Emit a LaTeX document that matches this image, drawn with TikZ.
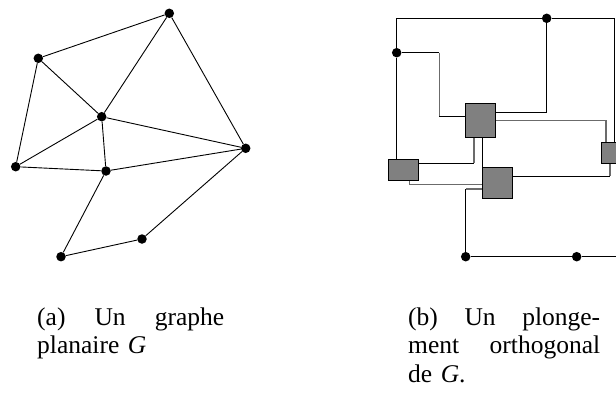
\documentclass[tikz,border=0pt]{standalone}
\usepackage{fontspec}
\setmainfont{Liberation Serif}
\definecolor{boxgray}{gray}{0.5}
\definecolor{linegray}{gray}{0.42}

\begin{document}
\begin{tikzpicture}[
    x=1pt, y=-1pt,
    vtx/.style={circle, fill=black, inner sep=0pt, minimum size=9.5pt},
    blk/.style={rectangle, draw=black, fill=boxgray, line width=1pt, inner sep=0pt},
    edge/.style={line width=0.9pt},
    gedge/.style={line width=1.1pt, draw=linegray},
    legende/.style={inner sep=0pt, anchor=base west, align=left, font=\fontsize{25.5}{28.5}\selectfont}
  ]
    \useasboundingbox (0,0) rectangle (616,394);
    \clip (0,0) rectangle (616,394);

    % (a) le graphe planaire
    \node[vtx] (a) at (169.3,13.3) {};
    \node[vtx] (b) at (38.3,58.3) {};
    \node[vtx] (c) at (101.7,116.7) {};
    \node[vtx] (d) at (245.7,148.3) {};
    \node[vtx] (e) at (15.7,166.7) {};
    \node[vtx] (f) at (106,171) {};
    \node[vtx] (g) at (142,239) {};
    \node[vtx] (h) at (61,256.7) {};
    \draw[edge] (a) -- (b) (a) -- (c) (a) -- (d) (b) -- (c) (b) -- (e) (c) -- (e)
      (c) -- (f) (c) -- (d) (e) -- (f) (f) -- (d) (f) -- (h) (h) -- (g) (g) -- (d);

    % (b) le plongement orthogonal
    \node[vtx] (p1) at (546.7,18.3) {};
    \node[vtx] (p2) at (396.7,52.7) {};
    \node[vtx] (p3) at (465.7,256.7) {};
    \node[vtx] (p4) at (576.7,256.7) {};
    \node[blk, minimum width=29.6pt, minimum height=34pt] (q1) at (480.5,120.3) {};
    \node[blk, minimum width=29.6pt, minimum height=30.6pt] (q2) at (497.5,182.8) {};
    \node[blk, minimum width=30pt, minimum height=21.5pt] (q3) at (403.5,169.9) {};
    \node[blk, minimum width=30pt, minimum height=21pt] (q4) at (616.5,152.8) {};

    \coordinate (k2) at (614,0);
    \coordinate (k4) at (0,112.3);
    \coordinate (k5a) at (439.3,52.7);
    \coordinate (k5b) at (439.3,116.7);
    \coordinate (k6) at (606,120.7);
    \coordinate (k7) at (474,163.3);
    \coordinate (k8) at (482.7,0);
    \coordinate (k9) at (610,176);
    \coordinate (k10) at (409.3,184.3);
    \coordinate (k11) at (465.7,189);
    \coordinate (k12) at (620,256.7);

    \draw[edge] (p2) |- (p1);
    \draw[edge] (p1) -| (q4.north -| k2);
    \draw[edge] (p2) -- (q3.north -| p2);
    \draw[edge] (p1) |- (q1.east |- k4);
    \draw[edge] (p2) -- (k5a);
    \draw[gedge] (k5a) -- (k5b);
    \draw[edge] (k5b) -- (q1.west |- k5b);
    \draw[gedge] (q1.east |- k6) -| (q4.north -| k6);
    \draw[edge] (q3.east |- k7) -- (k7);
    \draw[gedge] (k7) -- (q1.south -| k7);
    \draw[edge] (q1.south -| k8) -- (q2.north -| k8);
    \draw[edge] (q2.east |- k9) -- (k9);
    \draw[gedge] (k9) -- (q4.south -| k9);
    \draw[gedge] (q3.south -| k10) |- (q2.west |- k10);
    \draw[gedge] (q2.west |- k11) -- (k11);
    \draw[edge] (k11) -- (p3);
    \draw[edge] (p3) -- (p4) -- (k12);

    % legendes
    \node[legende, text width=187pt] (capa) at (37,325) {(a)\hfill Un\hfill graphe\\planaire \textit{G}};
    \node[legende, text width=192pt] (capb) at (408,325) {(b)\hfill Un\hfill plonge-\\ment\hfill orthogonal\\de \textit{G}.};
\end{tikzpicture}
\end{document}
